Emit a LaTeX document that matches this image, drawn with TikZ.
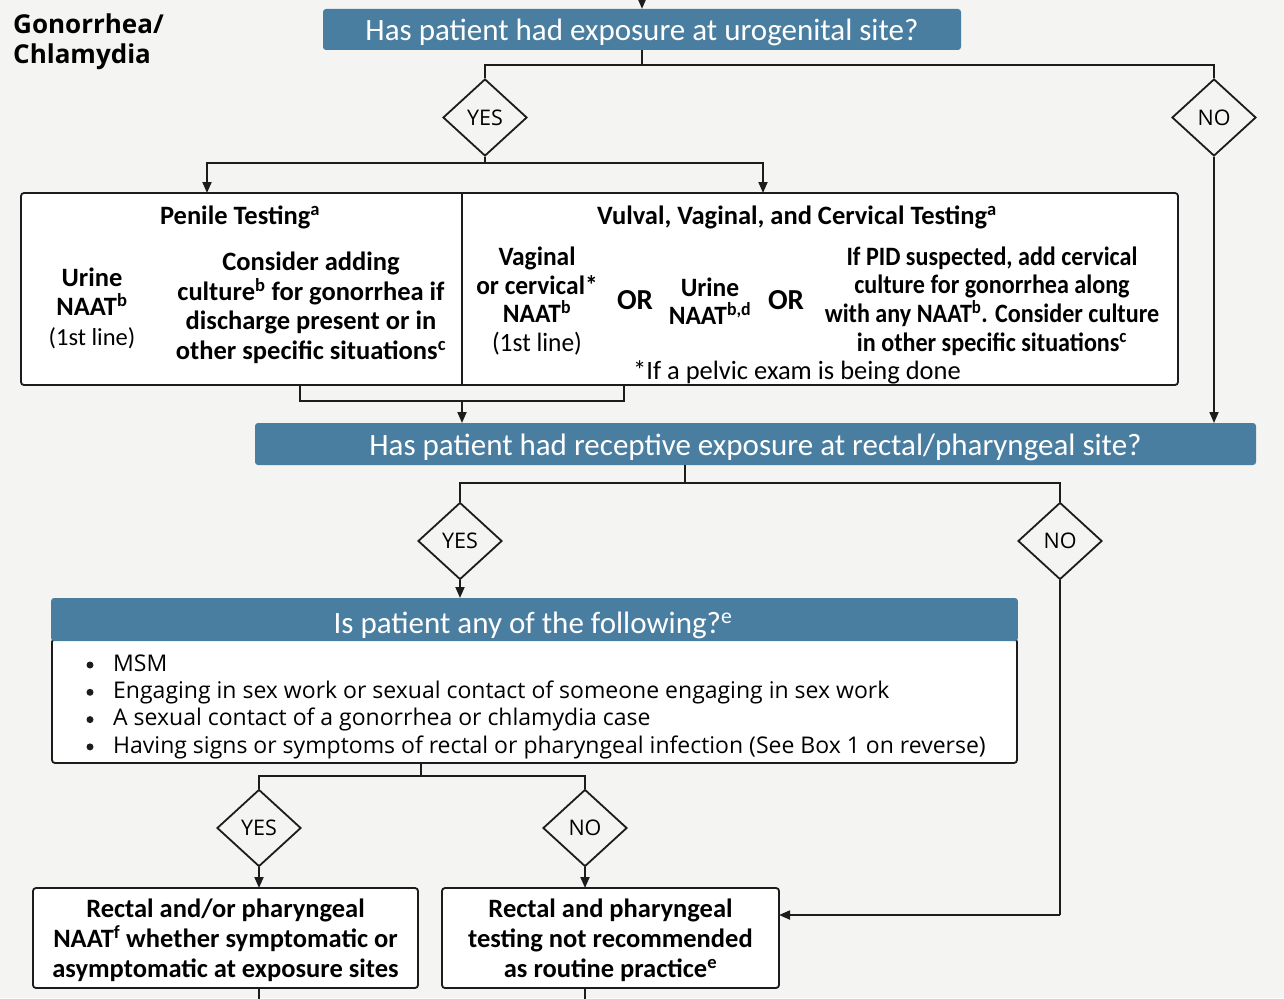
\documentclass[tikz,border=0pt]{standalone}
\usepackage{fontspec}
\setmainfont{Carlito}
\newfontfamily\opensans{Open Sans}
\newfontfamily\narrowA[FakeStretch=0.96]{Carlito}
\newfontfamily\narrowB[FakeStretch=0.91]{Carlito}
\usetikzlibrary{shapes.geometric,arrows.meta}
\definecolor{pagebg}{HTML}{F4F4F2}
\definecolor{barblue}{HTML}{4A7EA1}
\definecolor{ink}{HTML}{1C1C1C}

\tikzset{
  conn/.style={draw=ink, line width=1.8pt},
  arr/.style={conn, -{Triangle[length=11pt,width=9pt]}},
  bartext/.style={text=white, font=\fontsize{31}{36}\selectfont,
    text height=25pt, text depth=2pt},
  qbar/.style={fill=barblue, rounded corners=3pt, bartext, inner sep=0pt},
  choice/.style={diamond, draw=ink, fill=pagebg, line width=1.8pt,
    minimum width=84pt, minimum height=77pt, inner sep=0pt,
    font=\opensans\fontsize{21.5}{24}\selectfont},
  panel/.style={draw=ink, fill=white, line width=1.8pt, rounded corners=3pt,
    inner sep=0pt},
  boxtext/.style={align=center, inner sep=0pt,
    font=\bfseries\fontsize{26.5}{29.5}\selectfont},
  ortext/.style={inner sep=0pt, font=\bfseries\fontsize{29}{32}\selectfont},
  listdot/.style={circle, fill=ink, minimum size=7pt, inner sep=0pt},
}

\begin{document}
\begin{tikzpicture}[x=1pt,y=-1pt]
\fill[pagebg] (0,0) rectangle (1284,998);
\useasboundingbox (0,0) rectangle (1284,998);

% title
\node[anchor=north west, align=left, inner sep=0pt,
  font=\opensans\bfseries\fontsize{26}{29.5}\selectfont] (title) at (13,14)
  {Gonorrhea/\\Chlamydia};

% ---------- first question ----------
\node[qbar, minimum width=638pt, minimum height=41pt] (q1) at (642,29.5)
  {Has patient had exposure at urogenital site?};
\coordinate (entry) at (642,-4);
\draw[arr] (entry) -- (q1.north);

\coordinate (j1) at (642,65);
\node[choice] (yes1) at (485,117.5) {YES};
\node[choice] (no1) at (1214,117.5) {NO};
\draw[conn] (q1.south) -- (j1);
\draw[conn] (yes1.north) |- (j1) -| (no1.north);

% ---------- testing panel ----------
\node[panel, minimum width=1157pt, minimum height=192pt] (tests) at (599.5,289) {};
\coordinate (divtop) at (462,193);
\coordinate (divbot) at (462,385);
\draw[conn] (divtop) -- (divbot);

\coordinate (j2) at (485,163);
\coordinate (penin) at (207,193);
\coordinate (vulin) at (763,193);
\draw[conn] (yes1.south) -- (j2);
\draw[arr] (j2) -| (penin);
\draw[arr] (j2) -| (vulin);

\node[boxtext] (penhead) at (240,217) {Penile Testing\textsuperscript{a}};
\node[boxtext] (penurine) at (92,308)
  {Urine\\NAAT\textsuperscript{b}\\\mdseries\fontsize{24.5}{29}\selectfont(1st line)};
\node[boxtext] (penculture) at (311,308)
  {Consider adding\\culture\textsuperscript{b} for gonorrhea if\\discharge present or in\\other specific situations\textsuperscript{c}};

\node[boxtext] (vulhead) at (797,217) {Vulval, Vaginal, and Cervical Testing\textsuperscript{a}};
\node[boxtext, font=\narrowA\bfseries\fontsize{26.5}{28.7}\selectfont] (vulvag) at (537,301)
  {Vaginal\\or cervical*\\NAAT\textsuperscript{b}\\\mdseries(1st line)};
\node[ortext] (or1) at (635,300) {OR};
\node[boxtext, font=\narrowA\bfseries\fontsize{26.5}{28.5}\selectfont] (vulurine) at (710,301)
  {Urine\\NAAT\textsuperscript{b,d}};
\node[ortext] (or2) at (786,300) {OR};
\node[boxtext, font=\narrowB\bfseries\fontsize{26.5}{28.7}\selectfont] (vulpid) at (992,301)
  {If PID suspected, add cervical\\culture for gonorrhea along\\with any NAAT\textsuperscript{b}. Consider culture\\in other specific situations\textsuperscript{c}};
\node[inner sep=0pt, font=\fontsize{26.5}{30}\selectfont] (pelvic) at (797,372)
  {*If a pelvic exam is being done};

% merge below the panel
\coordinate (mleft) at (300,385);
\coordinate (mright) at (624,385);
\coordinate (mmid) at (462,401);
\coordinate (q2in) at (462,423);
\draw[conn] (mleft) |- (mmid) -| (mright);
\draw[arr] (mmid) -- (q2in);

% ---------- second question ----------
\node[qbar, minimum width=1001pt, minimum height=42pt] (q2) at (755.5,444)
  {Has patient had receptive exposure at rectal/pharyngeal site?};
\coordinate (q2no) at (1214,423);
\draw[arr] (no1.south) -- (q2no);

\coordinate (q2out) at (685,465);
\coordinate (j3) at (685,483);
\node[choice] (yes2) at (460,541) {YES};
\node[choice] (no2) at (1060,541) {NO};
\draw[conn] (q2out) -- (j3);
\draw[conn] (yes2.north) |- (j3) -| (no2.north);

% ---------- risk list ----------
\node[panel, minimum width=965pt, minimum height=124pt] (listbody) at (534.5,701) {};
\node[fill=barblue, rounded corners=3pt, minimum width=966.8pt, minimum height=43pt,
  inner sep=0pt] (listhead) at (534.5,619.5) {};
\node[bartext, inner sep=0pt] (listq) at (533,621.5)
  {Is patient any of the following?\textsuperscript{e}};
\coordinate (listin) at (460,598);
\draw[arr] (yes2.south) -- (listin);

\node[anchor=north west, inner sep=0pt, font=\opensans\fontsize{23}{27.3}\selectfont] (items) at (113,652)
  {\begin{tabular}{@{}l@{}}
   MSM\\
   Engaging in sex work or sexual contact of someone engaging in sex work\\
   A sexual contact of a gonorrhea or chlamydia case\\
   Having signs or symptoms of rectal or pharyngeal infection (See Box 1 on reverse)
   \end{tabular}};
\node[listdot] (dot1) at (90,665) {};
\node[listdot] (dot2) at (90,692.3) {};
\node[listdot] (dot3) at (90,719.6) {};
\node[listdot] (dot4) at (90,746.9) {};

\coordinate (listout) at (421,763);
\coordinate (j4) at (421,776);
\node[choice] (yes3) at (259,828) {YES};
\node[choice] (no3) at (585,828) {NO};
\draw[conn] (listout) -- (j4);
\draw[conn] (yes3.north) |- (j4) -| (no3.north);

% ---------- outcomes ----------
\node[panel, minimum width=385pt, minimum height=100pt] (res1) at (225.5,938) {};
\node[boxtext, font=\bfseries\fontsize{26.5}{30}\selectfont] (res1t) at (225.5,940)
  {Rectal and/or pharyngeal\\NAAT\textsuperscript{f} whether symptomatic or\\asymptomatic at exposure sites};
\node[panel, minimum width=337pt, minimum height=100pt] (res2) at (610.5,938) {};
\node[boxtext, font=\bfseries\fontsize{26.5}{30}\selectfont] (res2t) at (610.5,940)
  {Rectal and pharyngeal\\testing not recommended\\as routine practice\textsuperscript{e}};

\coordinate (res1in) at (259,888);
\coordinate (res2in) at (585,888);
\coordinate (res2side) at (779,915);
\coordinate (turn) at (1060,915);
\draw[arr] (yes3.south) -- (res1in);
\draw[arr] (no3.south) -- (res2in);
\draw[conn] (no2.south) -- (turn);
\draw[arr] (turn) -- (res2side);

\coordinate (res1out) at (259,988);
\coordinate (res1down) at (259,1000);
\coordinate (res2out) at (585,988);
\coordinate (res2down) at (585,1000);
\draw[conn] (res1out) -- (res1down);
\draw[conn] (res2out) -- (res2down);
\end{tikzpicture}
\end{document}
